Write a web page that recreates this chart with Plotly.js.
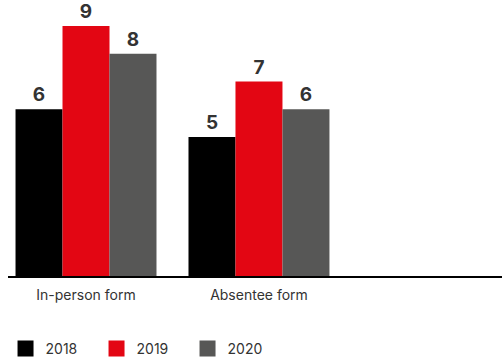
<!DOCTYPE html>
<html><head><meta charset="utf-8">
<script src="https://cdn.plot.ly/plotly-3.0.1.min.js"></script>
<style>html,body{margin:0;padding:0;background:#fff}#chart{width:502px;height:359px}</style>
</head><body><div id="chart"></div>
<script>
const categories = ["In-person form", "Absentee form"];
const years = ["2018", "2019", "2020"];
const values2018 = [6, 5];
const values2019 = [9, 7];
const values2020 = [8, 6];
const colors = ["#000000", "#e30613", "#575756"];
const seriesValues = [values2018, values2019, values2020];

const traces = [];
seriesValues.forEach((vals, i) => {
  traces.push({
    type: "bar", x: categories, y: vals, name: years[i],
    marker: {color: colors[i]}, showlegend: false,
    text: vals.map(String), textposition: "outside", cliponaxis: false,
    textfont: {family: "Inter, Roboto, sans-serif", size: 19, color: "#333333", weight: 700},
    hoverinfo: "skip"
  });
});
years.forEach((yr, i) => {
  traces.push({
    type: "scatter", mode: "markers", x: [null], y: [null], name: yr,
    marker: {color: colors[i], symbol: "square", size: 16}, showlegend: true
  });
});

const layout = {
  width: 502, height: 359,
  margin: {l: 8, r: 0, t: 10, b: 83, autoexpand: false},
  paper_bgcolor: "#fff", plot_bgcolor: "#fff",
  barmode: "group", bargap: 0.185, bargroupgap: 0,
  xaxis: {type: "category", range: [-0.451, 2.405], showline: true, linecolor: "#000", linewidth: 2,
          ticks: "", showgrid: false, zeroline: false, fixedrange: true, ticklabelstandoff: 5,
          automargin: false,
          tickfont: {family: "Inter, Roboto, sans-serif", size: 14, color: "#333"}},
  yaxis: {range: [0, 9.576], visible: false, showgrid: false, zeroline: false, fixedrange: true},
  showlegend: true,
  legend: {orientation: "h", x: -0.005, xanchor: "left", y: -0.274, yanchor: "middle",
           font: {family: "Inter, Roboto, sans-serif", size: 14, color: "#333"},
           entrywidth: 46, entrywidthmode: "pixels", itemclick: false, itemdoubleclick: false,
           traceorder: "normal"},
  font: {family: "Inter, Roboto, sans-serif"}
};
Plotly.newPlot("chart", traces, layout, {staticPlot: true, displayModeBar: false});
</script></body></html>
